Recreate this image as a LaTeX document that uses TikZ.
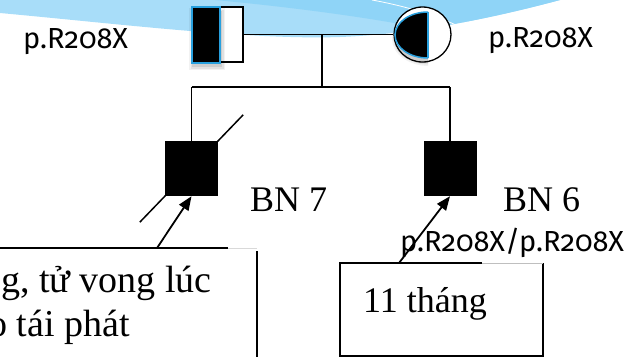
\documentclass[tikz,border=0pt]{standalone}
\usepackage{fontspec}
\setmainfont{Liberation Serif}
\newfontfamily\lblfont[Numbers=OldStyle]{Fira Sans}
\usetikzlibrary{arrows.meta,shapes.geometric,calc}
\definecolor{bandlight}{RGB}{168,221,249}
\definecolor{banddark}{RGB}{143,212,247}
\definecolor{edgeblue}{RGB}{40,160,222}
\tikzset{
  ped/.style={line width=1.5pt, draw=black},
  lbl/.style={font=\lblfont\fontsize{29}{34}\selectfont, inner sep=0pt},
  ser/.style={font=\fontsize{36}{44}\selectfont, inner sep=0pt},
  serbig/.style={font=\fontsize{38}{46}\selectfont, inner sep=0pt},
  arr/.style={line width=1.8pt, -{Triangle[length=14pt,width=11pt]}},
  boxline/.style={line width=1.8pt},
  child/.style={fill=black, minimum width=53pt, minimum height=55pt, inner sep=0pt}
}
\begin{document}
\begin{tikzpicture}[x=1pt,y=-1pt]
\useasboundingbox (0,0) rectangle (626,357);
\clip (0,0) rectangle (626,357);
% background swoosh
\fill[bandlight] (0,0) -- (0,13) .. controls (120,24) and (250,40) .. (340,37) .. controls (420,34) and (500,16) .. (560,0) -- cycle;
\begin{scope}
  \clip (0,0) -- (0,13) .. controls (120,24) and (250,40) .. (340,37) .. controls (420,34) and (500,16) .. (560,0) -- cycle;
  \fill[banddark] (215,0) .. controls (280,6) and (350,15) .. (400,24) .. controls (420,28) and (430,32) .. (440,40) -- (626,40) -- (626,0) -- cycle;
  \draw[white, line width=0.8pt] (372,0) .. controls (405,6) and (435,15) .. (458,26);
\end{scope}
% father
\node[draw, line width=1.3pt, fill=white, minimum width=51pt, minimum height=55pt, inner sep=0pt] (father) at (217.5,34.5) {};
\foreach \s/\o in {4/0.05,2.5/0.07,1/0.09}
  \fill[black, opacity=\o] (193-\s,12-\s) rectangle (221+\s,66+\s);
\node[fill=black, draw=edgeblue, line width=1.5pt, minimum width=28pt, minimum height=56pt, inner sep=0pt] (fhalf) at (206,35) {};
% mother
\node[ellipse, draw, fill=white, line width=1.3pt, minimum width=57pt, minimum height=55pt, inner sep=0pt] (mother) at (422.5,34.5) {};
\begin{scope}
  \clip (380,0) rectangle (428,80);
  \foreach \s/\o in {4/0.05,2.5/0.07,1/0.09}
    \fill[black, opacity=\o] (429,39) ellipse [x radius=33+\s, y radius=23+\s];
  \filldraw[fill=black, draw=edgeblue, line width=1.5pt] (428,35) ellipse [x radius=33, y radius=23];
\end{scope}
\draw[edgeblue, line width=1.5pt] (428,12) -- (428,58);
% marriage and descent
\draw[ped] (father.east) -- (mother.west);
\coordinate (mid) at (322,34.5);
\coordinate (sibM) at (322,87);
\coordinate (sibL) at (191.5,87);
\coordinate (sibR) at (450,87);
\draw[ped] (mid) -- (sibM);
\draw[ped] (sibL) -- (sibR);
% children
\node[child] (c1) at (191.5,168.5) {};
\node[child] (c2) at (450,168.5) {};
\draw[ped] (sibL) -- (c1.north);
\draw[ped] (sibR) -- (c2.north);
\draw[ped] ($(c1.south west)+(-25,26)$) -- ($(c1.north east)+(25,-26)$);
% labels
\node[lbl, anchor=base west] (lf) at (23,48) {p.R208X};
\node[lbl, anchor=base west] (lm) at (488,47) {p.R208X};
\node[ser, anchor=base west] (bn7) at (250,211) {BN 7};
\node[ser, anchor=base west] (bn6) at (503,211) {BN 6};
\node[lbl, anchor=base west] (gt) at (400,251) {p.R208X/p.R208X};
% left callout
\coordinate (lbA) at (0,248);
\coordinate (lbB) at (228,248);
\coordinate (lbC) at (257,248);
\coordinate (lbD) at (257,251);
\coordinate (lbE) at (257,357);
\draw[boxline] (lbA) -- (lbB);
\draw[gray!30, line width=0.6pt] (lbB) -- (lbC);
\draw[boxline] (lbD) -- (lbE);
\node[serbig, anchor=base west] (t1) at (1,292) {g, tử vong lúc};
\node[serbig, anchor=base east] (t2) at (130,336) {o tái phát};
% right callout
\coordinate (rbA) at (340,263);
\coordinate (rbB) at (482,263);
\coordinate (rbC) at (543,263);
\coordinate (rbD) at (543,356);
\coordinate (rbE) at (340,356);
\draw[boxline] (rbB) -- (rbA) -- (rbE) -- (rbD) -- (rbC);
\draw[gray!50, line width=1pt] (rbB) -- (rbC);
\node[ser, anchor=base west] (t3) at (363,312) {11 tháng};
% arrows
\coordinate (a1) at (157,248);
\coordinate (a2) at (399,263);
\draw[arr] (a1) -- (c1.south);
\draw[arr] (a2) -- (c2.south);
\end{tikzpicture}
\end{document}
